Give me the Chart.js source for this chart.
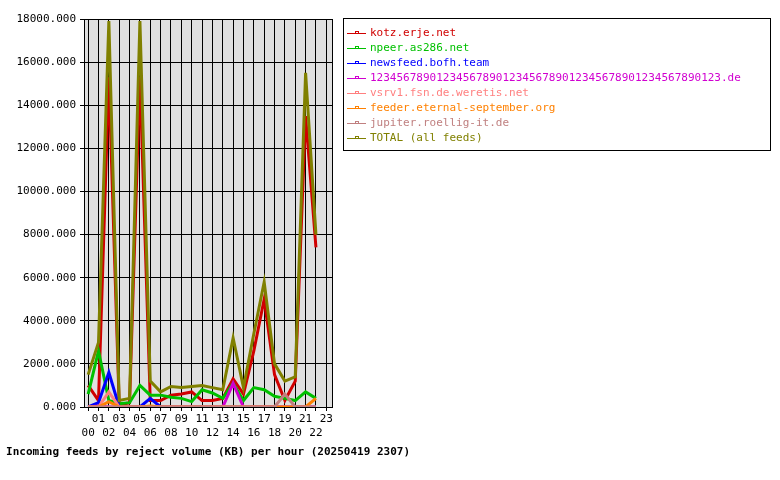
<!DOCTYPE html>
<html>
<head>
<meta charset="utf-8">
<script src="https://cdn.jsdelivr.net/npm/chart.js@4"></script>
<style>body{margin:0;background:#fff}</style>
</head>
<body>
<canvas id="graph" width="780" height="480"></canvas>
<script>
const hours = [0,1,2,3,4,5,6,7,8,9,10,11,12,13,14,15,16,17,18,19,20,21,22];
const feedNames = ['kotz.erje.net','npeer.as286.net','newsfeed.bofh.team',
  '12345678901234567890123456789012345678901234567890123.de',
  'vsrv1.fsn.de.weretis.net','feeder.eternal-september.org',
  'jupiter.roellig-it.de','TOTAL (all feeds)'];
const feedColors = ['#d00000','#00c000','#0000ff','#d000d0','#ff8080','#ff8000','#c08080','#808000'];

const kotz     = [1000,300,15300,100,200,15300,300,300,550,600,700,300,300,400,1300,600,2600,5000,1500,300,1200,13500,7400];
const npeer    = [600,2600,300,150,200,1000,550,550,450,400,250,800,650,400,1100,300,900,800,500,400,300,700,400];
const bofh     = [0,200,1600,0,0,0,400,0,0,0,0,0,0,0,0,0,0,0,0,0,0,0,0];
const longname = [0,50,0,0,0,0,0,0,0,0,0,0,0,0,1100,0,0,0,0,0,0,0,0];
const weretis  = [0,0,700,0,0,0,0,0,0,0,0,0,0,0,0,0,0,0,0,0,0,0,0];
const eternal  = [0,0,250,0,0,0,50,0,0,0,0,0,0,0,0,0,0,0,0,0,0,0,400];
const roellig  = [0,0,0,0,0,0,0,0,0,0,0,0,0,0,0,0,0,0,0,600,0,0,0];
const total    = [1500,3000,17900,300,400,17900,1200,700,950,900,950,1000,900,800,3200,900,3400,5800,2000,1200,1400,15500,8000];
const seriesValues = [kotz,npeer,bofh,longname,weretis,eternal,roellig,total];

const font = {family: 'DejaVu Sans Mono', size: 11};

const datasets = seriesValues.map((vals, i) => ({
  label: feedNames[i],
  data: vals.map((v, j) => ({x: hours[j], y: v})),
  borderColor: feedColors[i],
  borderWidth: 3,
  pointRadius: 0,
  tension: 0,
  fill: false,
  order: i == 7 ? 0 : 10 - i
}));

const decor = {
  id: 'decor',
  beforeDraw(chart) {
    const c = chart.ctx, a = chart.chartArea;
    c.save();
    c.fillStyle = '#e0e0e0';
    c.fillRect(a.left, a.top, a.right - a.left, a.bottom - a.top);
    c.restore();
  },
  afterDraw(chart) {
    const c = chart.ctx, a = chart.chartArea;
    c.save();
    c.strokeStyle = '#000';
    c.lineWidth = 1;
    c.strokeRect(a.left + 0.5, a.top + 0.5, a.right - a.left, a.bottom - a.top);
    // legend box
    c.strokeRect(343.5, 18.5, 427, 132);
    c.font = '11px "DejaVu Sans Mono"';
    c.textBaseline = 'middle';
    feedNames.forEach((n, i) => {
      const y = 33 + i * 15;
      c.strokeStyle = feedColors[i];
      c.beginPath(); c.moveTo(347, y + 0.5); c.lineTo(366, y + 0.5); c.stroke();
      c.strokeRect(355.5, y - 1.5, 3, 2);
      c.fillStyle = feedColors[i];
      c.fillText(n, 370, y);
    });
    c.fillStyle = '#000';
    c.font = 'bold 11px "DejaVu Sans Mono"';
    c.textAlign = 'right';
    c.fillText('Incoming feeds by reject volume (KB) per hour (20250419 2307)', 410, 452);
    c.restore();
  }
};

new Chart(document.getElementById('graph').getContext('2d'), {
  type: 'line',
  data: {datasets: datasets},
  options: {
    responsive: false,
    animation: false,
    layout: {padding: {left: 0, top: 19, right: 448, bottom: 0}},
    plugins: {legend: {display: false}, tooltip: {enabled: false}},
    scales: {
      x: {
        type: 'linear', min: -0.4, max: 23.55,
        afterFit: s => { s.height = 73; },
        afterBuildTicks: s => { s.ticks = hours.concat([23]).map(h => ({value: h})); },
        grid: {color: '#000', drawTicks: true, tickLength: 4},
        border: {display: false},
        ticks: {
          color: '#000', font: font, padding: 2, maxRotation: 0, autoSkip: false,
          callback: v => { const s = String(v).padStart(2, '0'); return v % 2 ? [s, ''] : ['', s]; }
        }
      },
      y: {
        min: 0, max: 18000,
        afterFit: s => { s.width = 84; },
        grid: {color: '#000', tickLength: 4},
        border: {display: false},
        ticks: {color: '#000', font: font, stepSize: 2000, padding: 4, callback: v => v.toFixed(3)}
      }
    }
  },
  plugins: [decor]
});
</script>
</body>
</html>
